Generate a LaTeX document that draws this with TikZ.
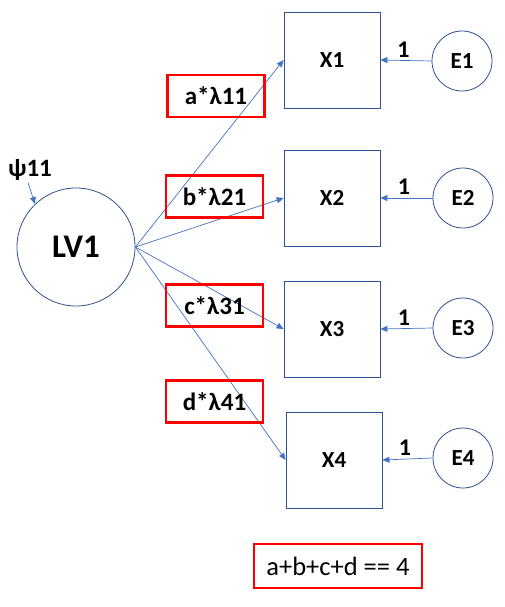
\documentclass[tikz,border=0pt]{standalone}
\usepackage{fontspec}
\setmainfont{Carlito}
\usetikzlibrary{arrows.meta}
\definecolor{linkblue}{HTML}{4472C4}
\definecolor{edgeblue}{HTML}{2F528F}
\tikzset{
  var/.style={draw=edgeblue, line width=0.8pt, minimum width=96pt, minimum height=96pt, inner sep=0pt, font=\bfseries\fontsize{23}{23}\selectfont},
  err/.style={circle, draw=edgeblue, line width=0.8pt, minimum size=60pt, inner sep=0pt, font=\bfseries\fontsize{23}{23}\selectfont},
  lat/.style={circle, draw=edgeblue, line width=0.8pt, minimum size=118pt, inner sep=0pt, font=\bfseries\fontsize{33}{33}\selectfont},
  param/.style={draw=red, line width=2.6pt, minimum width=97pt, minimum height=42pt, inner sep=0pt, font=\bfseries\fontsize{25}{25}\selectfont},
  link/.style={draw=linkblue, line width=0.7pt, -{Triangle[length=7pt,width=6pt]}},
  lbl/.style={font=\bfseries\fontsize{24}{24}\selectfont, inner sep=0pt}
}
\begin{document}
\begin{tikzpicture}[x=1pt, y=-1pt]
  \useasboundingbox (0,0) rectangle (505,607);

  % latent variable
  \node[lat] (lv) at (76,247) {LV1};
  \node[lbl, font=\bfseries\fontsize{25}{25}\selectfont] (psi) at (30,170) {ψ11};
  \draw[link] (psi.south) ++(-2,2) coordinate (psitail) -- (35,204);

  % indicators
  \node[var] (x1) at (332,60) {X1};
  \node[var] (x2) at (332,198) {X2};
  \node[var] (x3) at (332,329) {X3};
  \node[var] (x4) at (334,460) {X4};

  % error terms
  \node[err] (e1) at (462,61) {E1};
  \node[err] (e2) at (463,198) {E2};
  \node[err] (e3) at (463,328) {E3};
  \node[err] (e4) at (463,458) {E4};

  % loadings
  \coordinate (src) at (lv.east);
  \draw[link] (src) -- (x1.west);
  \draw[link] (src) -- (x2.west);
  \draw[link] (src) -- (x3.west);
  \draw[link] (src) -- (x4.west);

  % error paths
  \foreach \i in {1,...,4} {
    \draw[link] (e\i.west) -- (x\i.east) node[lbl, pos=0.55, above=3pt] {1};
  }

  % loading labels
  \node[param] (p1) at (216,96) {a*λ11};
  \node[param] (p2) at (214.5,196.5) {b*λ21};
  \node[param] (p3) at (214.5,305.5) {c*λ31};
  \node[param] (p4) at (214.5,401.5) {d*λ41};

  % constraint
  \node[param, minimum width=168pt, minimum height=44pt, font=\fontsize{26.5}{26.5}\selectfont] (cons) at (338,566) {a+b+c+d == 4};
\end{tikzpicture}
\end{document}
